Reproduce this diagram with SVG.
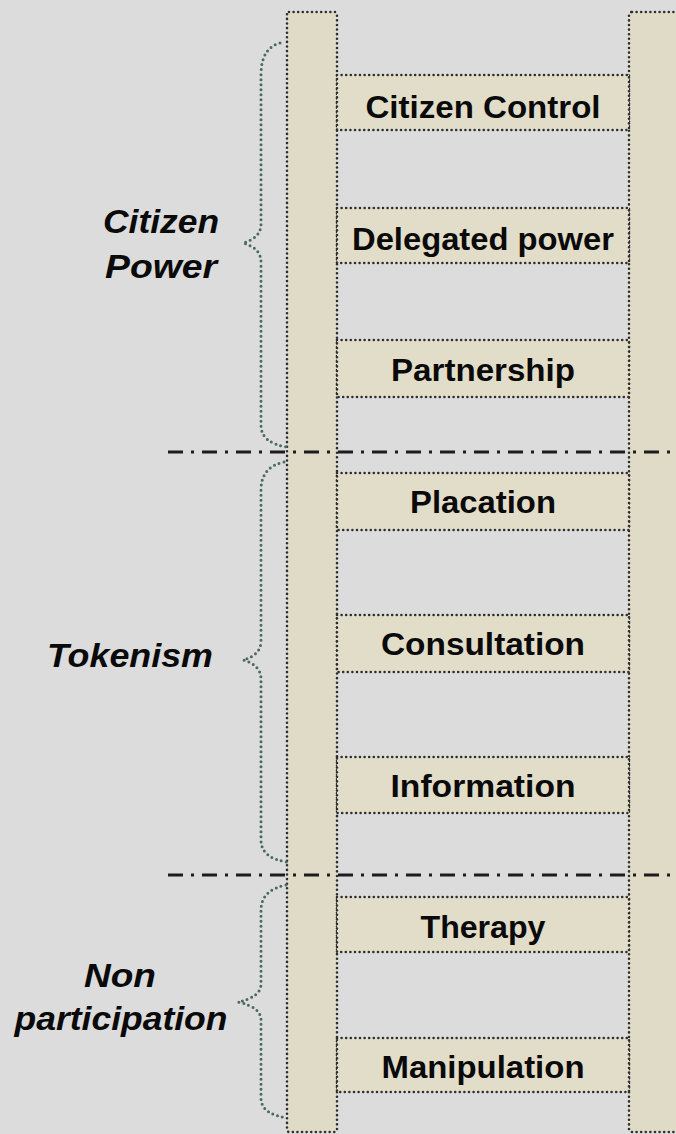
<svg xmlns="http://www.w3.org/2000/svg" width="676" height="1134" viewBox="0 0 676 1134">
<style>
.bg{fill:#dcdcdc}
.rail{fill:#e0dbc6;stroke:#2e2e2e;stroke-width:2.6;stroke-dasharray:0 4.6;stroke-linecap:round}
.rung{fill:#e2ddc9;stroke:#2e2e2e;stroke-width:2.6;stroke-dasharray:0 4.6;stroke-linecap:round}
.brace{fill:none;stroke:#4a6a5f;stroke-width:3;stroke-dasharray:0 5;stroke-linecap:round}
.div{fill:none;stroke:#1c1c1c;stroke-width:3;stroke-dasharray:15 8 3 8}
.lbl{font-family:"Liberation Sans",Arial,sans-serif;font-weight:bold;font-size:31px;fill:#0a0a0a;text-anchor:middle}
.grp{font-family:"Liberation Sans",Arial,sans-serif;font-weight:bold;font-style:italic;font-size:33px;fill:#0a0a0a;text-anchor:middle}
</style>
<rect class="bg" x="0" y="0" width="676" height="1134"/>
<g id="rail-left"><rect class="rail" x="287" y="12" width="50" height="1120" rx="2"/></g>
<g id="rail-right"><rect class="rail" x="629" y="12" width="70" height="1120" rx="3"/></g>
<g id="rung-citizen-control"><rect class="rung" x="337" y="75" width="292" height="55"/><text class="lbl" x="483" y="118" textLength="235" lengthAdjust="spacingAndGlyphs">Citizen Control</text></g>
<g id="rung-delegated-power"><rect class="rung" x="337" y="208" width="292" height="55"/><text class="lbl" x="483" y="250" textLength="262" lengthAdjust="spacingAndGlyphs">Delegated power</text></g>
<g id="rung-partnership"><rect class="rung" x="337" y="340" width="292" height="57"/><text class="lbl" x="483" y="381" textLength="184" lengthAdjust="spacingAndGlyphs">Partnership</text></g>
<g id="rung-placation"><rect class="rung" x="337" y="473" width="292" height="57"/><text class="lbl" x="483" y="513" textLength="146" lengthAdjust="spacingAndGlyphs">Placation</text></g>
<g id="rung-consultation"><rect class="rung" x="337" y="615" width="292" height="57"/><text class="lbl" x="483" y="655" textLength="204" lengthAdjust="spacingAndGlyphs">Consultation</text></g>
<g id="rung-information"><rect class="rung" x="337" y="757" width="292" height="56"/><text class="lbl" x="483" y="797" textLength="185" lengthAdjust="spacingAndGlyphs">Information</text></g>
<g id="rung-therapy"><rect class="rung" x="337" y="897" width="292" height="55"/><text class="lbl" x="483" y="938" textLength="125" lengthAdjust="spacingAndGlyphs">Therapy</text></g>
<g id="rung-manipulation"><rect class="rung" x="337" y="1038" width="292" height="54"/><text class="lbl" x="483" y="1078" textLength="203" lengthAdjust="spacingAndGlyphs">Manipulation</text></g>
<g id="connectors">
<path class="brace" d="M280 43 Q261 48 261 75 L261 224 Q261 238 243 243 Q261 248 261 262 L261 425 Q261 443 287 447"/>
<path class="brace" d="M284 462 Q261 467 261 490 L261 641 Q261 655 243 660 Q261 665 261 679 L261 840 Q261 858 287 862"/>
<path class="brace" d="M286 885 Q261 890 261 910 L261 984 Q261 997 238 1002 Q261 1007 261 1020 L261 1098 Q261 1114 287 1118"/>
<line class="div" x1="168" y1="452" x2="676" y2="452"/>
<line class="div" x1="168" y1="875" x2="676" y2="875"/>
</g>
<g id="group-citizen-power"><text class="grp" x="161" y="233" textLength="116" lengthAdjust="spacingAndGlyphs">Citizen</text><text class="grp" x="161" y="278" textLength="112" lengthAdjust="spacingAndGlyphs">Power</text></g>
<g id="group-tokenism"><text class="grp" x="130" y="667" textLength="166" lengthAdjust="spacingAndGlyphs">Tokenism</text></g>
<g id="group-non-participation"><text class="grp" x="120" y="987" textLength="72" lengthAdjust="spacingAndGlyphs">Non</text><text class="grp" x="121" y="1030" textLength="213" lengthAdjust="spacingAndGlyphs">participation</text></g>
</svg>
